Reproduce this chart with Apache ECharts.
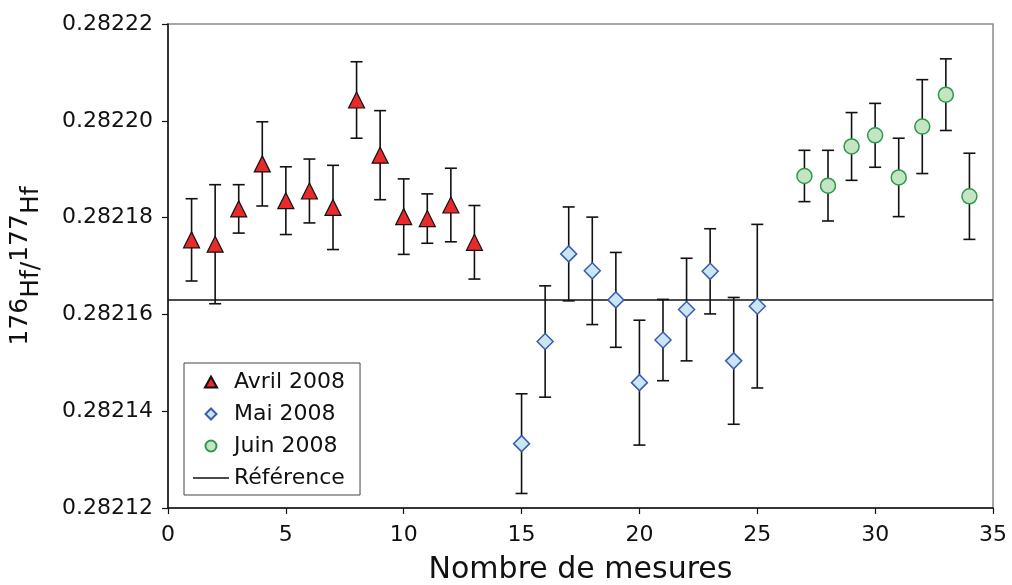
<!DOCTYPE html>
<html>
<head>
<meta charset="utf-8">
<script src="https://cdn.jsdelivr.net/npm/echarts@6/dist/echarts.min.js"></script>
<style>
html,body{margin:0;padding:0;background:#fff;}
#c{width:1012px;height:585px;}
</style>
</head>
<body>
<div id="c"></div>
<script>
// ---- data ----
const avrilX = [1,2,3,4,5,6,7,8,9,10,11,12,13];
const avrilY = [0.2821754,0.2821745,0.2821818,0.2821911,0.2821835,0.2821855,0.2821821,0.2822043,0.2821929,0.2821802,0.2821798,0.2821826,0.2821749];
const avrilErr = [0.0000085,0.0000123,0.0000050,0.0000087,0.0000070,0.0000066,0.0000087,0.0000079,0.0000092,0.0000078,0.0000051,0.0000076,0.0000076];

const maiX = [15,16,17,18,19,20,21,22,23,24,25];
const maiY = [0.2821333,0.2821544,0.2821725,0.2821690,0.2821630,0.2821459,0.2821547,0.2821610,0.2821689,0.2821504,0.2821617];
const maiErr = [0.0000103,0.0000115,0.0000097,0.0000111,0.0000098,0.0000129,0.0000084,0.0000106,0.0000088,0.0000131,0.0000169];

const juinX = [27,28,29,30,31,32,33,34];
const juinY = [0.2821886,0.2821866,0.2821947,0.2821970,0.2821883,0.2821988,0.2822054,0.2821844];
const juinErr = [0.0000053,0.0000073,0.0000070,0.0000066,0.0000081,0.0000097,0.0000074,0.0000089];

const referenceValue = 0.282163;
const xRange = [0, 35];
const yRange = [0.28212, 0.28222];
const seriesNames = ['Avril 2008','Mai 2008','Juin 2008','Référence'];

// ---- helpers ----
const FONT = 'DejaVu Sans';
function pts(xs, ys){ return xs.map((x,i)=>[x, ys[i]]); }
function bars(xs, ys, es){ return xs.map((x,i)=>[x, ys[i]-es[i], ys[i]+es[i]]); }
function errRender(params, api){
  const x = api.value(0), lo = api.value(1), hi = api.value(2);
  const a = api.coord([x, lo]), b = api.coord([x, hi]);
  const hw = 6;
  const st = {stroke:'#111', lineWidth:1.6};
  return {type:'group', children:[
    {type:'line', shape:{x1:a[0], y1:a[1], x2:b[0], y2:b[1]}, style:st},
    {type:'line', shape:{x1:a[0]-hw, y1:a[1], x2:a[0]+hw, y2:a[1]}, style:st},
    {type:'line', shape:{x1:b[0]-hw, y1:b[1], x2:b[0]+hw, y2:b[1]}, style:st}
  ]};
}
function errSeries(xs, ys, es){
  return {type:'custom', renderItem:errRender, data:bars(xs,ys,es), encode:{x:0, y:[1,2]}, z:2, silent:true};
}

const chart = echarts.init(document.getElementById('c'));
chart.setOption({
  animation:false,
  backgroundColor:'#fff',
  textStyle:{fontFamily:FONT},
  grid:{left:168, right:19, top:24, bottom:77, show:true, outerBoundsMode:'none', containLabel:false,
    borderColor:'#8a8a8a', borderWidth:1.5, backgroundColor:'transparent'},
  legend:{
    data:[
      {name:seriesNames[0], icon:'path://M0,10 L5.5,0 L11,10 Z'},
      {name:seriesNames[1], icon:'path://M5,0 L10,5 L5,10 L0,5 Z'},
      {name:seriesNames[2], icon:'circle'},
      {name:seriesNames[3], icon:'path://M0,0 L36,0 L36,1.5 L0,1.5 Z'}
    ],
    orient:'vertical',
    left:184, top:363,
    padding:[8,15,6,9],
    itemGap:10,
    itemWidth:36, itemHeight:11,
    symbolKeepAspect:true,
    borderColor:'#444', borderWidth:1, backgroundColor:'#fff',
    textStyle:{fontFamily:FONT, fontSize:22, color:'#111'},
    selectedMode:false
  },
  xAxis:{
    type:'value', min:xRange[0], max:xRange[1], interval:5,
    name:'Nombre de mesures', nameLocation:'middle', nameGap:47,
    nameTextStyle:{fontFamily:FONT, fontSize:30, color:'#111'},
    axisLine:{lineStyle:{color:'#111', width:1.5}},
    axisTick:{show:true, length:6, lineStyle:{color:'#111', width:1.2}},
    axisLabel:{fontFamily:FONT, fontSize:22, color:'#111', margin:16},
    splitLine:{show:false}
  },
  yAxis:{
    type:'value', min:yRange[0], max:yRange[1], interval:0.00002,
    name:'{s|176}{b|Hf/}{s|177}{b|Hf}', nameLocation:'middle', nameGap:113, nameRotate:90,
    nameTextStyle:{fontFamily:FONT, fontSize:25, color:'#111', rich:{
      s:{fontFamily:FONT, fontSize:25, color:'#111', padding:[0,0,22,0]},
      b:{fontFamily:FONT, fontSize:25, color:'#111'}
    }},
    axisLine:{show:true, lineStyle:{color:'#111', width:1.5}},
    axisTick:{show:true, length:6, lineStyle:{color:'#111', width:1.2}},
    axisLabel:{fontFamily:FONT, fontSize:22, color:'#111', margin:15, formatter:v=>v.toFixed(5)},
    splitLine:{show:false}
  },
  series:[
    errSeries(avrilX, avrilY, avrilErr),
    errSeries(maiX, maiY, maiErr),
    errSeries(juinX, juinY, juinErr),
    {name:seriesNames[3], type:'line', data:[[xRange[0],referenceValue],[xRange[1],referenceValue]],
      symbol:'none', lineStyle:{color:'#111', width:1.5}, itemStyle:{color:'#111'}, z:1},
    {name:seriesNames[0], type:'scatter', data:pts(avrilX, avrilY), symbol:'triangle', symbolSize:16,
      itemStyle:{color:'#E82A2A', borderColor:'#111', borderWidth:1.2, opacity:1}, z:5},
    {name:seriesNames[1], type:'scatter', data:pts(maiX, maiY), symbol:'diamond', symbolSize:[16,16],
      itemStyle:{color:'#C8E7F3', borderColor:'#3B5CAD', borderWidth:1.5, opacity:1}, z:5},
    {name:seriesNames[2], type:'scatter', data:pts(juinX, juinY), symbol:'circle', symbolSize:15,
      itemStyle:{color:'#C5E4C2', borderColor:'#2A9A4E', borderWidth:1.5, opacity:1}, z:5}
  ]
});
</script>
</body>
</html>
